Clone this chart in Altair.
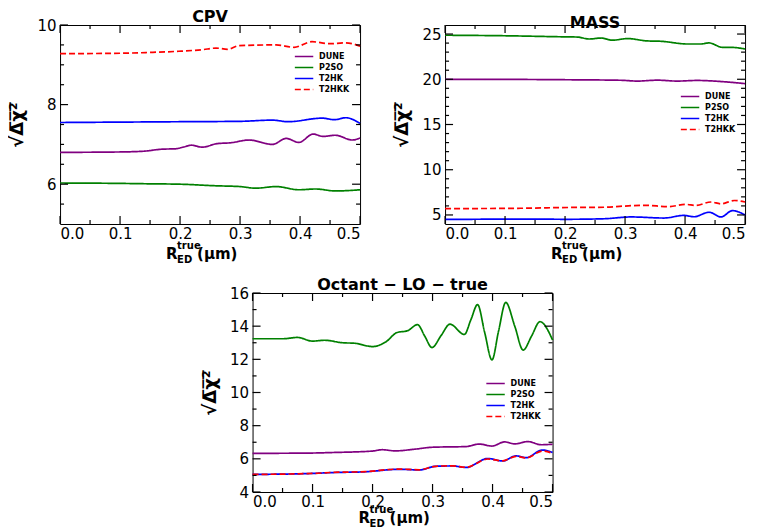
import altair as alt
import pandas as pd

SERIES = ["DUNE", "P2SO", "T2HK", "T2HKK"]
COLORS = ["#800080", "#008000", "#0000ff", "#ff0000"]
DASHES = [[1, 0], [1, 0], [1, 0], [6, 3]]

X_MAJOR = [0.0, 0.1, 0.2, 0.3, 0.4, 0.5]
X_MINOR = [0.05, 0.15, 0.25, 0.35, 0.45]

# ---- CPV ----
CPV_DUNE_X = [0, 0.1, 0.14, 0.17, 0.193, 0.205, 0.219, 0.237, 0.262, 0.284, 0.315, 0.354, 0.377, 0.398, 0.422, 0.438, 0.459, 0.487, 0.5]
CPV_DUNE_Y = [6.80, 6.81, 6.83, 6.88, 6.89, 6.93, 6.98, 6.93, 7.02, 7.04, 7.11, 7.00, 7.15, 7.05, 7.26, 7.20, 7.23, 7.11, 7.16]
CPV_P2SO_X = [0, 0.1, 0.148, 0.2, 0.26, 0.3, 0.326, 0.36, 0.398, 0.426, 0.459, 0.5]
CPV_P2SO_Y = [6.03, 6.02, 6.01, 6.0, 5.96, 5.94, 5.90, 5.94, 5.86, 5.88, 5.83, 5.86]
CPV_T2HK_X = [0, 0.1, 0.2, 0.3, 0.354, 0.38, 0.437, 0.457, 0.476, 0.5]
CPV_T2HK_Y = [7.55, 7.56, 7.57, 7.58, 7.61, 7.57, 7.66, 7.62, 7.67, 7.53]
CPV_T2HKK_X = [0, 0.1, 0.148, 0.198, 0.237, 0.26, 0.279, 0.298, 0.36, 0.39, 0.42, 0.448, 0.476, 0.5]
CPV_T2HKK_Y = [9.28, 9.29, 9.31, 9.34, 9.38, 9.42, 9.39, 9.48, 9.50, 9.44, 9.58, 9.53, 9.55, 9.47]

# ---- MASS ----
MASS_DUNE_X = [0, 0.13, 0.2, 0.293, 0.32, 0.354, 0.387, 0.42, 0.46, 0.5]
MASS_DUNE_Y = [20.0, 19.98, 19.95, 19.89, 19.8, 19.9, 19.8, 19.87, 19.75, 19.52]
MASS_P2SO_X = [0, 0.1, 0.2, 0.22, 0.24, 0.26, 0.279, 0.304, 0.337, 0.36, 0.404, 0.426, 0.44, 0.462, 0.479, 0.5]
MASS_P2SO_Y = [24.87, 24.81, 24.69, 24.67, 24.45, 24.56, 24.32, 24.50, 24.24, 24.2, 23.9, 23.9, 24.02, 23.53, 23.52, 23.35]
MASS_T2HK_X = [0, 0.15, 0.2, 0.265, 0.31, 0.365, 0.398, 0.415, 0.44, 0.46, 0.479, 0.5]
MASS_T2HK_Y = [4.5, 4.55, 4.52, 4.58, 4.78, 4.66, 4.95, 4.8, 5.3, 4.78, 5.48, 5.0]
MASS_T2HKK_X = [0, 0.126, 0.21, 0.265, 0.298, 0.332, 0.373, 0.401, 0.418, 0.443, 0.46, 0.482, 0.5]
MASS_T2HKK_Y = [5.7, 5.74, 5.83, 5.85, 5.98, 6.07, 5.92, 6.17, 6.05, 6.43, 6.23, 6.6, 6.43]

# ---- Octant-LO-true ----
OCT_DUNE_X = [0, 0.1, 0.132, 0.2, 0.216, 0.238, 0.27, 0.30, 0.356, 0.378, 0.399, 0.42, 0.437, 0.459, 0.481, 0.5]
OCT_DUNE_Y = [6.33, 6.35, 6.38, 6.47, 6.55, 6.48, 6.58, 6.70, 6.74, 6.89, 6.77, 7.02, 6.90, 7.04, 6.85, 6.88]
OCT_P2SO_X = [0, 0.05, 0.075, 0.1, 0.12, 0.15, 0.17, 0.2, 0.222, 0.241, 0.258, 0.275, 0.287, 0.299, 0.314, 0.329, 0.353, 0.364, 0.375, 0.387, 0.399, 0.41, 0.422, 0.437, 0.451, 0.465, 0.479, 0.5]
OCT_P2SO_Y = [13.24, 13.24, 13.32, 13.10, 13.15, 13.0, 12.97, 12.77, 13.05, 13.62, 13.72, 14.09, 13.4, 12.71, 13.42, 14.12, 13.5, 14.4, 15.3, 13.6, 11.96, 13.7, 15.43, 14.0, 12.56, 13.4, 14.27, 13.17]
OCT_T2HK_X = [0, 0.1, 0.132, 0.188, 0.244, 0.278, 0.305, 0.333, 0.356, 0.392, 0.417, 0.439, 0.456, 0.483, 0.5]
OCT_T2HK_Y = [5.06, 5.12, 5.17, 5.22, 5.37, 5.33, 5.55, 5.57, 5.48, 6.02, 5.87, 6.18, 6.07, 6.53, 6.38]
OCT_T2HKK_X = [0, 0.1, 0.132, 0.188, 0.244, 0.278, 0.305, 0.333, 0.356, 0.392, 0.417, 0.439, 0.456, 0.483, 0.5]
OCT_T2HKK_Y = [5.06, 5.12, 5.18, 5.23, 5.38, 5.34, 5.55, 5.58, 5.49, 5.99, 5.88, 6.15, 6.06, 6.47, 6.33]

CPV_Y_MAJOR = [6, 8, 10]
CPV_Y_MINOR = [5.5, 6.5, 7, 7.5, 8.5, 9, 9.5]
MASS_Y_MAJOR = [5, 10, 15, 20, 25]
MASS_Y_MINOR = [6, 7, 8, 9, 11, 12, 13, 14, 16, 17, 18, 19, 21, 22, 23, 24]
OCT_Y_MAJOR = [4, 6, 8, 10, 12, 14, 16]
OCT_Y_MINOR = [5, 7, 9, 11, 13, 15]

W, H = 300, 199
FONT = "DejaVu Sans"
YTITLE = "√Δ̅χ̅²̅"


def panel(title, series_data, ydom, ymaj, ymin, lx, ly, tb):
    rows = []
    for s in SERIES:
        xs, ys = series_data[s]
        for a, b in zip(xs, ys):
            rows.append({"series": s, "x": a, "y": b})
    df = pd.DataFrame(rows)
    xsc = alt.Scale(domain=[0, 0.5], nice=False, zero=False)
    ysc = alt.Scale(domain=ydom, nice=False, zero=False)
    xax = alt.Axis(values=X_MAJOR, format=".1f", title=None, ticks=False,
                   domain=False, grid=False, labelPadding=2)
    yax = alt.Axis(values=ymaj, format="d", title=YTITLE, ticks=False,
                   domain=False, grid=False, labelPadding=4, titlePadding=10)
    leg = alt.Legend(title=None, orient="none", legendX=lx, legendY=ly,
                     symbolType="stroke", symbolSize=340, symbolStrokeWidth=1.5,
                     labelFontSize=8, labelFontWeight="bold", labelFont=FONT,
                     clipHeight=11, rowPadding=0, labelOffset=5, padding=0)
    lines = alt.Chart(df).mark_line(strokeWidth=1.7, interpolate="monotone").encode(
        x=alt.X("x:Q", scale=xsc, axis=xax),
        y=alt.Y("y:Q", scale=ysc, axis=yax),
        color=alt.Color("series:N", scale=alt.Scale(domain=SERIES, range=COLORS), legend=leg),
        strokeDash=alt.StrokeDash("series:N", scale=alt.Scale(domain=SERIES, range=DASHES), legend=leg),
    )

    def yt(vals, x0, x1):
        return alt.Chart(pd.DataFrame({"y": vals})).mark_rule(color="black", strokeWidth=1.2).encode(
            y=alt.Y("y:Q", scale=ysc, axis=yax), x=alt.value(x0), x2=alt.value(x1))

    def xt(vals, y0, y1):
        return alt.Chart(pd.DataFrame({"x": vals})).mark_rule(color="black", strokeWidth=1.2).encode(
            x=alt.X("x:Q", scale=xsc, axis=xax), y=alt.value(y0), y2=alt.value(y1))

    ticks = [
        yt(ymaj, 0, 8), yt(ymin, 0, 4), yt(ymaj, W - 8, W), yt(ymin, W - 4, W),
        xt(X_MAJOR, H, H - 8), xt(X_MINOR, H, H - 4), xt(X_MAJOR, 0, 8), xt(X_MINOR, 0, 4),
    ]

    def txt(s, x, y, size):
        return alt.Chart(pd.DataFrame({"t": [s]})).mark_text(
            align="left", baseline="alphabetic", font=FONT, fontSize=size,
            fontWeight="bold", color="black").encode(x=alt.value(x), y=alt.value(y), text="t:N")

    xtitle = [txt("R", 106, tb, 15), txt("true", 117, tb - 10, 10),
              txt("ED", 117, tb + 4, 10), txt("(μm)", 137, tb, 15)]

    return alt.layer(lines, *ticks, *xtitle).properties(
        width=W, height=H,
        title=alt.Title(title, fontSize=16, fontWeight="bold", font=FONT, offset=-7))


cpv = panel("CPV", {
    "DUNE": (CPV_DUNE_X, CPV_DUNE_Y), "P2SO": (CPV_P2SO_X, CPV_P2SO_Y),
    "T2HK": (CPV_T2HK_X, CPV_T2HK_Y), "T2HKK": (CPV_T2HKK_X, CPV_T2HKK_Y)},
    [5, 10], CPV_Y_MAJOR, CPV_Y_MINOR, 234, 26, 234)

mass = panel("MASS", {
    "DUNE": (MASS_DUNE_X, MASS_DUNE_Y), "P2SO": (MASS_P2SO_X, MASS_P2SO_Y),
    "T2HK": (MASS_T2HK_X, MASS_T2HK_Y), "T2HKK": (MASS_T2HKK_X, MASS_T2HKK_Y)},
    [4, 26], MASS_Y_MAJOR, MASS_Y_MINOR, 235, 66, 234)

octant = panel("Octant − LO − true", {
    "DUNE": (OCT_DUNE_X, OCT_DUNE_Y), "P2SO": (OCT_P2SO_X, OCT_P2SO_Y),
    "T2HK": (OCT_T2HK_X, OCT_T2HK_Y), "T2HKK": (OCT_T2HKK_X, OCT_T2HKK_Y)},
    [4, 16], OCT_Y_MAJOR, OCT_Y_MINOR, 233, 85, 230)

top = alt.hconcat(cpv, mass, spacing=29).resolve_scale(color="independent", strokeDash="independent", x="independent", y="independent")
chart = alt.vconcat(top, octant, spacing=10, center=True).resolve_scale(
    color="independent", strokeDash="independent", x="independent", y="independent"
).properties(
    padding={"left": 0, "top": 0, "right": 0, "bottom": 0}
).configure_view(stroke="black", strokeWidth=1).configure_axis(
    labelFont=FONT, labelFontSize=15, labelColor="black",
    titleFont=FONT, titleFontSize=18, titleFontWeight="bold", titleColor="black"
).configure_title(color="black", anchor="middle")

chart.save("out.html", embed_options={"renderer": "svg", "actions": False})
